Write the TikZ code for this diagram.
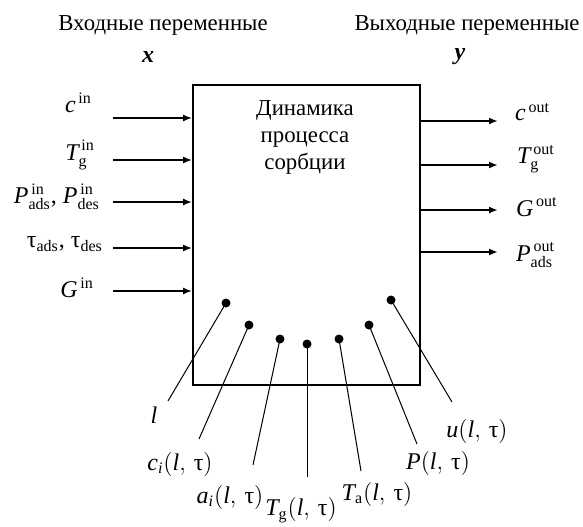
\documentclass[tikz,border=0pt]{standalone}
\usepackage{amsmath}
\usepackage{fontspec}
\setmainfont{Liberation Serif}
\usetikzlibrary{arrows.meta,positioning}

\newcommand{\itv}[1]{\textit{#1}}

\begin{document}
\begin{tikzpicture}[x=0.5pt,y=-0.5pt,
  font=\fontsize{12}{12.5}\selectfont,
  head/.style={font=\fontsize{11.4}{13.5}\selectfont},
  arr/.style={line width=0.9pt,-{Latex[length=4.5pt,width=3.5pt]}},
  lead/.style={line width=0.5pt},
  dot/.style={circle,fill,inner sep=0pt,minimum size=4.5pt}]

\useasboundingbox (0,0) rectangle (583,526);

% Headings
\node[head] (xhead) at (163,25) {Входные переменные};
\node (xsym) at (148,57) {\textbf{\textit{x}}};
\node[head] (yhead) at (467,25) {Выходные переменные};
\node (ysym) at (460,57) {\textbf{\textit{y}}};

% Process block
\node[draw,line width=0.9pt,minimum width=113.5pt,minimum height=150pt,inner sep=0pt] (box) at (306.5,235) {};
\node[head,align=center] (proc) at (305,137) {Динамика\\процесса\\сорбции};

% Inputs
\foreach \y [count=\i] in {118,160,202,248,291} {
  \coordinate (in\i) at (113,\y);
  \draw[arr] (in\i) -- (in\i -| box.west);
}
\node[anchor=east] (cin) at (99,103) {$\itv{c}^{\,\text{in}}$};
\node[anchor=east] (tgin) at (102,155) {$\itv{T}^{\,\text{in}}_{\text{g}}$};
\node[anchor=east] (pin) at (107,197) {$\itv{P}^{\,\text{in}}_{\text{ads}}$, $\itv{P}^{\,\text{in}}_{\text{des}}$};
\node[anchor=east] (tauin) at (110,244) {$\text{τ}_{\text{ads}}$, $\text{τ}_{\text{des}}$};
\node[anchor=east] (gin) at (101,288) {$\itv{G}^{\,\text{in}}$};

% Outputs
\foreach \y [count=\i] in {121,165,210,252} {
  \coordinate (out\i) at (498,\y);
  \draw[arr] (out\i -| box.east) -- (out\i);
}
\node[anchor=west] (cout) at (508,112) {$\itv{c}^{\,\text{out}}$};
\node[anchor=west] (tgout) at (510,159) {$\itv{T}^{\,\text{out}}_{\text{g}}$};
\node[anchor=west] (gout) at (509,207) {$\itv{G}^{\,\text{out}}$};
\node[anchor=west] (pout) at (509,255) {$\itv{P}^{\,\text{out}}_{\text{ads}}$};

% State variables
\foreach \n/\a/\b/\c/\d in {1/226/303/168/401, 2/249/325/199/439, 3/280/339/253/465,
    4/307/344/307/477, 5/339/339/361/471, 6/369/325/417/444, 7/391/300/452/402} {
  \node[dot] (dot\n) at (\a,\b) {};
  \coordinate (end\n) at (\c,\d);
  \draw[lead] (dot\n.center) -- (end\n);
}
\node (lab1) at (154,415) {\itv{l}};
\node (lab2) at (180,464) {$\itv{c}_{\itv{i}}(\itv{l},\,\text{τ})$};
\node (lab3) at (230,497) {$\itv{a}_{\itv{i}}(\itv{l},\,\text{τ})$};
\node (lab4) at (301,510) {$\itv{T}_{\text{g}}(\itv{l},\,\text{τ})$};
\node (lab5) at (377,494) {$\itv{T}_{\text{a}}(\itv{l},\,\text{τ})$};
\node (lab6) at (438,463) {$\itv{P}(\itv{l},\,\text{τ})$};
\node (lab7) at (477,431) {$\itv{u}(\itv{l},\,\text{τ})$};

\end{tikzpicture}
\end{document}
